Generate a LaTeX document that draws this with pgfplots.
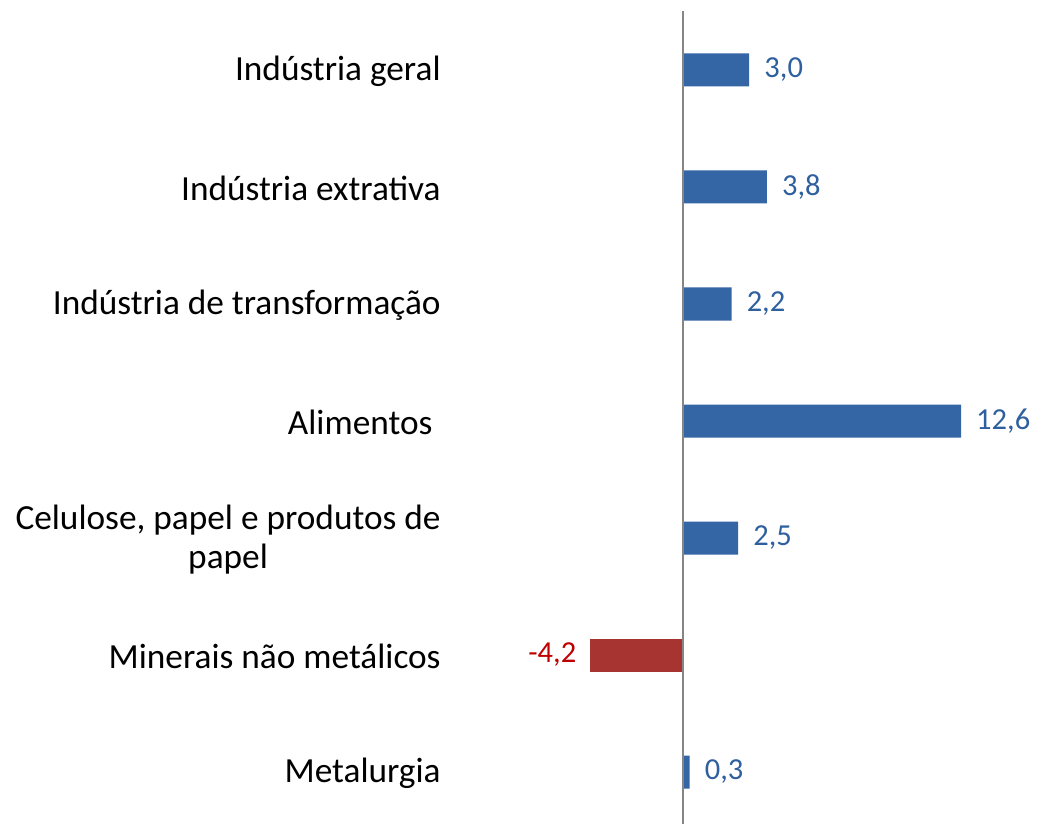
\documentclass[border=0pt]{standalone}
\usepackage{pgfplots}
\pgfplotsset{compat=1.18}
\usepackage{pgfplotstable}
\usepackage{fontspec}
\setmainfont{Carlito}
\definecolor{barblue}{RGB}{52,101,164}
\definecolor{barred}{RGB}{168,52,50}
\definecolor{lblblue}{RGB}{46,95,158}
\definecolor{lblred}{RGB}{192,0,0}
\definecolor{axgray}{RGB}{134,134,134}
\pgfplotstableread{
x y lbl
3.0 0 3,0
3.8 1 3,8
2.2 2 2,2
12.6 3 12,6
2.5 4 2,5
0.3 6 0,3
}\pos
\pgfplotstableread{
x y lbl
-4.2 5 -4,2
}\negt
\begin{document}
\begin{tikzpicture}
\useasboundingbox (0,0) rectangle (1037pt,824pt);
\begin{axis}[
  at={(444.8pt,812.5pt)}, anchor=north west,
  x=22.06pt, y=117pt, y dir=reverse,
  xmin=-10.8, xmax=16, ymin=-0.5, ymax=6.5,
  axis line style={draw=none},
  xtick=\empty,
  ytick={0,...,6},
  major tick length=0pt,
  yticklabels={Indústria geral, Indústria extrativa, Indústria de transformação, {Alimentos\hspace*{0.23em}}, {Celulose, papel e produtos de\\papel}, Minerais não metálicos, Metalurgia},
  yticklabel style={font=\fontsize{35.3}{39}\selectfont, align=center, inner sep=0pt, xshift=-4pt, yshift=-1.5pt, text=black},
  xbar, bar width=33pt, bar shift=0pt,
  nodes near coords,
  point meta=explicit symbolic,
  clip=false,
]
\addplot[fill=barblue, draw=none, every node near coord/.append style={anchor=west, text=lblblue, font=\fontsize{30.5}{34}\selectfont, inner xsep=15pt, inner ysep=0pt}] table[x=x, y=y, meta=lbl]{\pos};
\addplot[fill=barred, draw=none, every node near coord/.append style={anchor=east, text=lblred, font=\fontsize{30.5}{34}\selectfont, inner xsep=14pt, inner ysep=0pt}] table[x=x, y=y, meta=lbl]{\negt};
\draw[axgray, line width=2pt] (axis cs:0,-0.5) -- (axis cs:0,6.5);
\end{axis}
\end{tikzpicture}
\end{document}
